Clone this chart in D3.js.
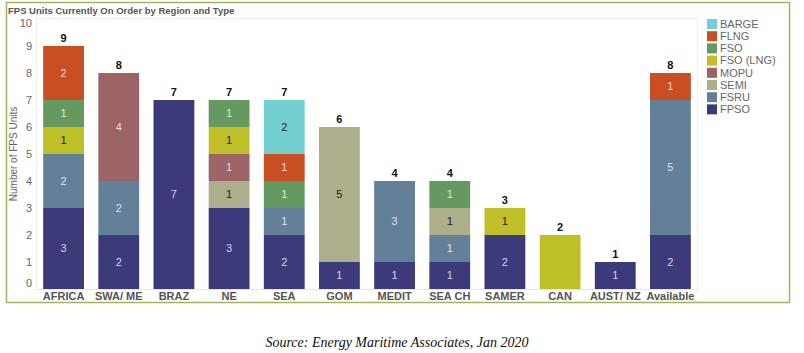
<html>
<head>
  <meta charset="utf-8" />
  <script src="https://cdnjs.cloudflare.com/ajax/libs/d3/7.8.5/d3.min.js"></script>
  <style>
    body { margin: 0; background: #fff; }
    text { font-family: "Liberation Sans", Arial, sans-serif; }
    text.source { font-family: "Liberation Serif", "Times New Roman", serif; font-style: italic; }
  </style>
</head>
<body>
  <svg id="chart" width="804" height="353"></svg>
  <script>
    var regions = ["AFRICA", "SWA/ ME", "BRAZ", "NE", "SEA", "GOM", "MEDIT", "SEA CH", "SAMER", "CAN", "AUST/ NZ", "Available"];
    // stacking order bottom -> top
    var types = ["FPSO", "FSRU", "SEMI", "MOPU", "FSO (LNG)", "FSO", "FLNG", "BARGE"];
    var legendTypes = ["BARGE", "FLNG", "FSO", "FSO (LNG)", "MOPU", "SEMI", "FSRU", "FPSO"];
    var colors = ["#3c3a78", "#647f98", "#adae8c", "#9c6466", "#bfbf28", "#64995f", "#c94e23", "#72d0d0"];

    // units per region, one array per type (same order as regions)
    var FPSO     = [3, 2, 7, 3, 2, 1, 1, 1, 2, 0, 1, 2];
    var FSRU     = [2, 2, 0, 0, 1, 0, 3, 1, 0, 0, 0, 5];
    var SEMI     = [0, 0, 0, 1, 0, 5, 0, 1, 0, 0, 0, 0];
    var MOPU     = [0, 4, 0, 1, 0, 0, 0, 0, 0, 0, 0, 0];
    var FSO_LNG  = [1, 0, 0, 1, 0, 0, 0, 0, 1, 2, 0, 0];
    var FSO      = [1, 0, 0, 1, 1, 0, 0, 1, 0, 0, 0, 0];
    var FLNG     = [2, 0, 0, 0, 1, 0, 0, 0, 0, 0, 0, 1];
    var BARGE    = [0, 0, 0, 0, 2, 0, 0, 0, 0, 0, 0, 0];
    var yTicks = [0, 1, 2, 3, 4, 5, 6, 7, 8, 9, 10];
    var unlabelled = ["CAN"];

    var series = [FPSO, FSRU, SEMI, MOPU, FSO_LNG, FSO, FLNG, BARGE];
    var table = regions.map(function(r, i) {
      var row = {region: r};
      types.forEach(function(t, j) { row[t] = series[j][i]; });
      return row;
    });

    var color = d3.scaleOrdinal().domain(types).range(colors);
    var dark = ["FPSO", "FSRU", "MOPU", "FSO", "FLNG"];

    var svg = d3.select("#chart");

    // frame
    svg.append("rect").attr("x", 6.5).attr("y", 2.5).attr("width", 783).attr("height", 300)
      .attr("fill", "#fff").attr("stroke", "#a3b460").attr("stroke-width", 1.5);

    svg.append("text").attr("x", 8).attr("y", 14)
      .attr("font-size", 9.5).attr("font-weight", "bold").attr("fill", "#555")
      .text("FPS Units Currently On Order by Region and Type");

    var x = d3.scaleBand().domain(regions).range([36, 698]).paddingInner(0.26).paddingOuter(0.13);
    var y = d3.scaleLinear().domain([0, 10]).range([289, 19]);

    // plot area edges
    svg.append("rect").attr("x", 36.5).attr("y", 18.5).attr("width", 661).attr("height", 271)
      .attr("fill", "none").attr("stroke", "#eee");

    // y axis
    var yAxis = svg.append("g").attr("transform", "translate(36,0)")
      .call(d3.axisLeft(y).tickValues(yTicks).tickSize(0).tickPadding(4));
    yAxis.select(".domain").remove();
    yAxis.selectAll("text").attr("font-size", 11).attr("fill", "#666")
      .attr("dy", function(d) { return d === 0 ? "-0.2em" : d === 10 ? "0.65em" : "0.32em"; });

    svg.append("text").attr("transform", "translate(17,154) rotate(-90)")
      .attr("text-anchor", "middle").attr("font-size", 10).attr("fill", "#666")
      .text("Number of FPS Units");

    // x axis
    var xAxis = svg.append("g").attr("transform", "translate(0,289)")
      .call(d3.axisBottom(x).tickSize(0).tickPadding(3));
    xAxis.select(".domain").attr("stroke", "#ddd").attr("stroke-dasharray", "2,2");
    xAxis.selectAll("text").attr("font-size", 11).attr("font-weight", "bold").attr("fill", "#555");

    var stack = d3.stack().keys(types)(table);

    var layer = svg.append("g").selectAll("g").data(stack).enter().append("g")
      .attr("fill", function(d) { return color(d.key); });

    layer.selectAll("rect").data(function(d) { return d; }).enter()
      .filter(function(d) { return d[1] > d[0]; })
      .append("rect")
        .attr("x", function(d) { return x(d.data.region); })
        .attr("width", x.bandwidth())
        .attr("y", function(d) { return y(d[1]); })
        .attr("height", function(d) { return y(d[0]) - y(d[1]); });

    // segment labels
    stack.forEach(function(s) {
      var c = color(s.key);
      var lc = dark.indexOf(s.key) >= 0 ? d3.interpolateRgb(c, "#fff")(0.78) : "#222";
      svg.append("g").selectAll("text").data(s.filter(function(d) {
          return d[1] > d[0] && unlabelled.indexOf(d.data.region) < 0;
        })).enter()
        .append("text")
          .attr("x", function(d) { return x(d.data.region) + x.bandwidth() / 2; })
          .attr("y", function(d) { return (y(d[0]) + y(d[1])) / 2; })
          .attr("dy", "0.35em").attr("text-anchor", "middle")
          .attr("font-size", 11).attr("fill", lc)
          .text(function(d) { return d[1] - d[0]; });
    });

    // totals
    svg.append("g").selectAll("text").data(table).enter()
      .append("text")
        .attr("x", function(d) { return x(d.region) + x.bandwidth() / 2; })
        .attr("y", function(d) { return y(d3.sum(types, function(t) { return d[t]; })) - 4; })
        .attr("text-anchor", "middle").attr("font-size", 11).attr("font-weight", "bold").attr("fill", "#111")
        .text(function(d) { return d3.sum(types, function(t) { return d[t]; }); });

    // legend
    var legend = svg.append("g").selectAll("g").data(legendTypes).enter().append("g")
      .attr("transform", function(d, i) { return "translate(707," + (19 + i * 12.2) + ")"; });
    legend.append("rect").attr("width", 10).attr("height", 10).attr("fill", function(d) { return color(d); });
    legend.append("text").attr("x", 13).attr("y", 5).attr("dy", "0.35em")
      .attr("font-size", 11).attr("fill", "#666").text(function(d) { return d; });

    // source
    svg.append("text").attr("class", "source").attr("x", 397).attr("y", 347).attr("text-anchor", "middle")
      .attr("font-size", 14).attr("fill", "#111")
      .text("Source: Energy Maritime Associates, Jan 2020");
  </script>
</body>
</html>
